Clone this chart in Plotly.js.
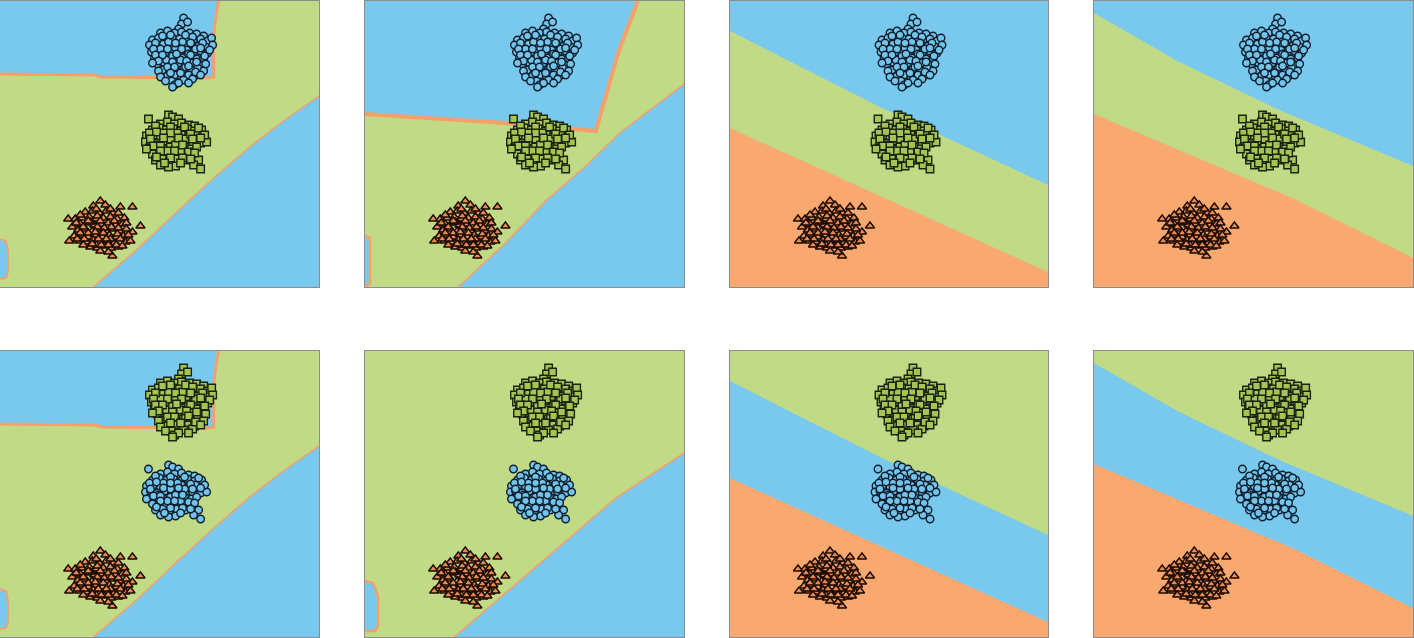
<!DOCTYPE html>
<html>
<head>
<meta charset="utf-8">
<script src="https://cdn.plot.ly/plotly-3.0.1.min.js"></script>
<style>
  html, body { margin: 0; padding: 0; background: #fff; }
  #myDiv { width: 1414px; height: 638px; }
</style>
</head>
<body>
<div id="myDiv"></div>
<script>
// the three point clouds (same positions in every panel, x right / y down)
var topPts = [
  [183,17],[181,23],[178,28],[187,21],
  [160,32],[167,30],[174,32],[181,31],[189,32],[196,33],[203,35],
  [152,39],[158,37],[165,39],[172,37],[179,38],[186,37],[193,39],[200,38],[207,40],[211,37],
  [149,44],[156,45],[163,43],[170,45],[177,44],[184,45],[191,43],[198,45],[205,46],[212,44],
  [151,51],[158,50],[165,52],[172,50],[179,51],[186,49],[193,51],[200,50],[207,52],
  [154,57],[161,56],[168,58],[175,56],[182,57],[189,56],[196,58],[203,57],
  [157,63],[164,62],[171,64],[178,62],[185,63],[192,62],[199,64],
  [162,69],[169,68],[176,70],[183,68],[190,69],[197,67],
  [167,75],[174,74],[181,76],[188,74],[194,75],
  [171,80],[174,84],[183,79],[192,78],
  [168,41],[182,41],[175,47],[188,53],[166,59],[180,59],[172,55],[160,48],[195,48],[185,66],
  [162,35],[170,34],[185,34],[192,36],[155,42],[175,42],[190,42],[202,42],[153,48],[167,48],
  [181,48],[200,47],[209,49],[155,54],[162,54],[176,53],[190,54],[204,55],[158,60],[172,61],
  [186,60],[196,61],[167,66],[174,66],[188,65],[195,71],[170,72],[180,72],
  [152,62],[205,63],[158,70],[203,70],[160,76],[200,74],[165,80],[178,82],[188,82],[172,86]
];
var midPts = [
  [148,118],[168,114],[172,116],[178,118],
  [160,123],[167,121],[174,123],[181,122],[188,124],[194,125],
  [152,129],[159,127],[166,129],[173,128],[180,130],[187,128],[194,130],[201,129],
  [146,135],[153,134],[160,136],[167,134],[174,135],[181,134],[188,136],[195,134],
  [145,141],[150,140],[157,142],[164,140],[171,142],[178,140],[185,142],[192,141],[200,142],[206,141],
  [149,147],[156,146],[163,148],[170,146],[177,148],[184,146],[191,148],
  [152,153],[159,152],[166,154],[173,152],[180,154],[187,153],
  [155,159],[162,158],[169,160],[176,158],[185,159],[198,159],
  [160,164],[175,165],[193,164],[200,168],[168,166],
  [163,132],[177,132],[170,138],[184,138],[158,144],[175,144],[167,150],[180,150],
  [155,125],[170,126],[184,126],[198,127],[149,132],[156,131],[170,132],[190,133],[204,134],
  [150,138],[163,137],[178,137],[192,138],[200,137],[153,145],[160,145],[182,144],[196,146],
  [146,148],[160,150],[174,150],[188,151],[194,152],[156,156],[170,157],[182,157],[164,162],
  [180,162],[190,158]
];
var lowPts = [
  [100,200],[93,205],[105,204],[120,206],[132,206],
  [85,211],[92,210],[99,212],[106,210],[113,212],
  [68,218],[75,218],[82,217],[89,216],[96,218],[103,217],[110,216],[117,218],[124,217],
  [72,226],[80,223],[87,222],[94,224],[101,223],[108,222],[115,224],[122,223],[140,225],
  [78,229],[85,228],[92,230],[99,228],[106,230],[113,228],[120,230],[132,231],
  [74,235],[81,234],[88,236],[95,234],[102,236],[109,234],[116,236],[123,235],
  [69,240],[79,240],[86,241],[93,239],[100,241],[107,240],[114,242],[125,241],[130,240],
  [90,246],[97,247],[104,245],[111,247],[118,246],
  [112,255],
  [90,221],[97,215],[104,227],[88,232],[110,238],[96,244],
  [96,208],[110,208],[118,212],[80,214],[88,220],[100,220],[114,220],[126,222],[76,222],
  [83,226],[97,226],[111,226],[118,227],[126,228],[80,232],[95,231],[103,232],[117,233],
  [128,234],[77,238],[84,238],[98,238],[106,238],[120,238],[83,244],[92,243],[101,244],
  [108,244],[116,244],[122,245],[100,250],[108,251]
];

// decision boundaries
var bndA_top = [[0,73],[95,74],[100,76],[207,77],[213,76],[213,33],[216,10],[218,0]];
var bndA_low = [[93,286],[135,250],[175,212],[212,178],[250,145],[285,118],[318,95]];
var bndA_left = [[0,238],[6,240],[8,250],[8,270],[6,277],[0,278]];
var bndB_top = [[0,113],[50,116],[140,122],[230,130],[253,50],[272,0]];
var bndB_low = [[93,286],[140,242],[180,200],[220,165],[255,131],[295,100],[318,83]];
var bndB_left = [[0,235],[5,237],[5,283],[0,285]];
var bndF_low = [[89,286],[200,190],[250,147],[318,102]];
var bndF_left = [[0,230],[8,232],[13,245],[13,275],[10,280],[0,280]];
var bndC_up = [[0,30],[150,106],[318,184]];
var bndC_dn = [[0,127],[318,271]];
var bndD_up = [[0,12],[83,60],[187,110],[318,165]];
var bndD_dn = [[0,113],[110,160],[200,198],[318,257]];

var BLUE = '#79c9ee', GREEN = '#c1da85', ORANGE = '#f9a96f', EDGE = '#f5a06a';

// closing corners for each region polygon
var TL = [[0,0]], BR = [[318,286]], ABOVE = [[318,0],[0,0]], BELOW = [[318,286],[0,286]];

var panels = [
  { bg: GREEN, regions: [[bndA_top, TL, BLUE], [bndA_low, BR, BLUE], [bndA_left, [], BLUE]],
    edges: [[bndA_top, 3], [bndA_low, 1.5], [bndA_left, 2]], swap: false },
  { bg: GREEN, regions: [[bndB_top, TL, BLUE], [bndB_low, BR, BLUE], [bndB_left, [], BLUE]],
    edges: [[bndB_top, 4], [bndB_low, 1.5], [bndB_left, 2.5]], swap: false },
  { bg: GREEN, regions: [[bndC_up, ABOVE, BLUE], [bndC_dn, BELOW, ORANGE]], edges: [], swap: false },
  { bg: GREEN, regions: [[bndD_up, ABOVE, BLUE], [bndD_dn, BELOW, ORANGE]], edges: [], swap: false },
  { bg: GREEN, regions: [[bndA_top, TL, BLUE], [bndA_low, BR, BLUE], [bndA_left, [], BLUE]],
    edges: [[bndA_top, 3], [bndA_low, 1.5], [bndA_left, 2]], swap: true },
  { bg: GREEN, regions: [[bndF_low, BR, BLUE], [bndF_left, [], BLUE]],
    edges: [[bndF_low, 1.5], [bndF_left, 2.5]], swap: true },
  { bg: BLUE, regions: [[bndC_up, ABOVE, GREEN], [bndC_dn, BELOW, ORANGE]], edges: [], swap: true },
  { bg: BLUE, regions: [[bndD_up, ABOVE, GREEN], [bndD_dn, BELOW, ORANGE]], edges: [], swap: true }
];

var colPx = [[0,319],[365,684],[730,1048],[1094,1413]];
var rowPx = [[1,287],[351,637]];
var W = 1414, H = 638;

function xs(p) { return p.map(function(d){ return d[0]; }); }
function ys(p) { return p.map(function(d){ return d[1]; }); }

var circleStyle = { symbol: 'circle', size: 7.5, color: '#72c4ec', line: { color: '#0e1e2c', width: 1.4 } };
var squareStyle = { symbol: 'square', size: 7.5, color: '#a5c552', line: { color: '#1c2410', width: 1.4 } };
var triStyle = { symbol: 'triangle-up', size: 8, color: '#e98b52', line: { color: '#1a0a00', width: 1.4 } };

var data = [];
var layout = {
  width: W, height: H,
  margin: { l: 0, r: 0, t: 0, b: 0 },
  paper_bgcolor: '#ffffff',
  showlegend: false,
  hovermode: false,
  shapes: []
};

panels.forEach(function(p, i) {
  var n = i + 1;
  var xa = n === 1 ? 'x' : 'x' + n;
  var ya = n === 1 ? 'y' : 'y' + n;
  var col = colPx[i % 4], row = rowPx[Math.floor(i / 4)];

  layout['xaxis' + (n === 1 ? '' : n)] = {
    domain: [col[0] / W, col[1] / W], anchor: ya, range: [0, 318],
    showgrid: false, zeroline: false, showticklabels: false, ticks: '',
    showline: true, mirror: true, linecolor: '#8c8c8c', linewidth: 1, fixedrange: true
  };
  layout['yaxis' + (n === 1 ? '' : n)] = {
    domain: [1 - row[1] / H, 1 - row[0] / H], anchor: xa, range: [286, 0],
    showgrid: false, zeroline: false, showticklabels: false, ticks: '',
    showline: true, mirror: true, linecolor: '#8c8c8c', linewidth: 1, fixedrange: true
  };

  layout.shapes.push({
    type: 'rect', xref: xa + ' domain', yref: ya + ' domain',
    x0: 0, x1: 1, y0: 0, y1: 1, fillcolor: p.bg, line: { width: 0 }, layer: 'below'
  });

  p.regions.forEach(function(r) {
    var poly = r[0].concat(r[1]);
    data.push({ x: xs(poly), y: ys(poly), xaxis: xa, yaxis: ya, mode: 'lines',
      fill: 'toself', fillcolor: r[2], line: { width: 0 }, type: 'scatter' });
  });

  p.edges.forEach(function(e) {
    data.push({ x: xs(e[0]), y: ys(e[0]), xaxis: xa, yaxis: ya, mode: 'lines',
      line: { color: EDGE, width: e[1] }, type: 'scatter' });
  });

  var topStyle = p.swap ? squareStyle : circleStyle;
  var midStyle = p.swap ? circleStyle : squareStyle;
  [[lowPts, triStyle], [midPts, midStyle], [topPts, topStyle]].forEach(function(s) {
    data.push({ x: xs(s[0]), y: ys(s[0]), xaxis: xa, yaxis: ya, mode: 'markers',
      marker: s[1], type: 'scatter', cliponaxis: false });
  });
});

Plotly.newPlot('myDiv', data, layout, { staticPlot: true });
</script>
</body>
</html>
